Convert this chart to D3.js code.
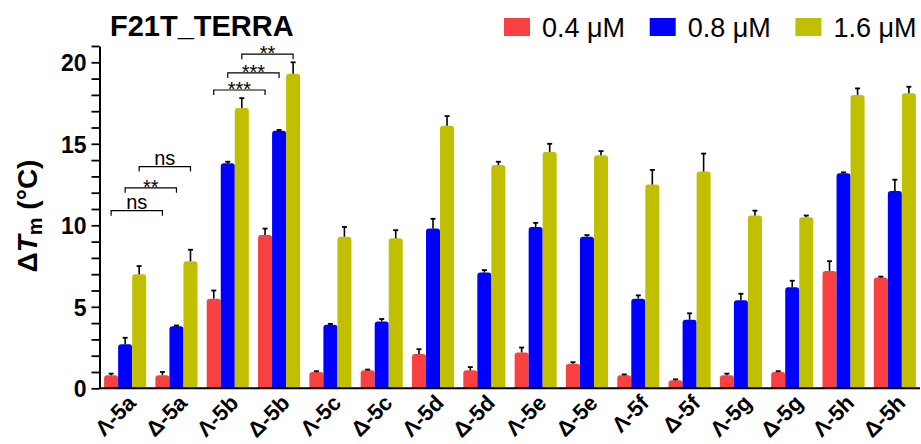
<!DOCTYPE html>
<html>
<head>
<meta charset="utf-8">
<script src="https://cdn.jsdelivr.net/npm/d3@7/dist/d3.min.js"></script>
<style>
  html, body { margin: 0; padding: 0; background: #fff; }
  svg { display: block; font-family: "Liberation Sans", Arial, sans-serif; }
</style>
</head>
<body>
<svg id="chart" width="921" height="444"></svg>
<script>
// Compounds on the x axis
const categories = ["Λ-5a", "Δ-5a", "Λ-5b", "Δ-5b", "Λ-5c", "Δ-5c", "Λ-5d", "Δ-5d",
                    "Λ-5e", "Δ-5e", "Λ-5f", "Δ-5f", "Λ-5g", "Δ-5g", "Λ-5h", "Δ-5h"];

// Concentration series
const seriesNames = ["0.4 μM", "0.8 μM", "1.6 μM"];
const seriesColors = ["#FA4141", "#0000FF", "#C0C000"];

// ΔTm means (°C) per concentration
const values04 = [0.8, 0.8, 5.5, 9.4, 1.0, 1.1, 2.1, 1.1, 2.2, 1.5, 0.8, 0.5, 0.8, 1.0, 7.2, 6.8];
const values08 = [2.7, 3.8, 13.8, 15.8, 3.9, 4.1, 9.8, 7.1, 9.9, 9.3, 5.5, 4.2, 5.4, 6.2, 13.2, 12.1];
const values16 = [7.0, 7.8, 17.2, 19.3, 9.3, 9.2, 16.1, 13.7, 14.5, 14.3, 12.5, 13.3, 10.6, 10.5, 18.0, 18.1];

// Standard deviations (drawn upward only)
const errors04 = [0.1, 0.2, 0.5, 0.4, 0.05, 0.05, 0.3, 0.2, 0.3, 0.1, 0.05, 0.05, 0.1, 0.05, 0.6, 0.05];
const errors08 = [0.4, 0.05, 0.1, 0.05, 0.05, 0.15, 0.6, 0.15, 0.25, 0.1, 0.2, 0.4, 0.4, 0.4, 0.05, 0.7];
const errors16 = [0.5, 0.7, 0.6, 0.7, 0.6, 0.5, 0.6, 0.2, 0.5, 0.25, 0.9, 1.1, 0.3, 0.1, 0.4, 0.4];

// Y axis ticks
const yTicks = d3.range(0, 22);
const yTickLabels = [0, 5, 10, 15, 20];

// Significance comparisons: category A vs category B within one series, bracket level (°C), label
const sigCategoryA = ["Λ-5a", "Λ-5a", "Λ-5a", "Λ-5b", "Λ-5b", "Λ-5b"];
const sigCategoryB = ["Δ-5a", "Δ-5a", "Δ-5a", "Δ-5b", "Δ-5b", "Δ-5b"];
const sigSeries    = [0, 1, 2, 0, 1, 2];
const sigLevels    = [10.9, 12.3, 13.6, 18.3, 19.35, 20.5];
const sigLabels    = ["ns", "**", "ns", "***", "***", "**"];

const seriesValues = [values04, values08, values16];
const seriesErrors = [errors04, errors08, errors16];

const svg = d3.select("#chart");

const x = d3.scaleBand().domain(categories).range([100, 920])
  .paddingInner(0.18).paddingOuter(0.08);
const xs = d3.scaleBand().domain(d3.range(seriesNames.length)).range([0, x.bandwidth()]);
const y = d3.scaleLinear().domain([0, 21]).range([388.3, 388.3 - 21 * 16.3]);

// bars with slightly rounded top corners
function barPath(x0, w, v) {
  const yt = y(v), yb = y(0);
  const r = Math.min(3, (yb - yt) / 2, w / 2);
  return `M${x0},${yb}V${yt + r}Q${x0},${yt} ${x0 + r},${yt}H${x0 + w - r}Q${x0 + w},${yt} ${x0 + w},${yt + r}V${yb}Z`;
}

const groups = svg.append("g").selectAll("g")
  .data(categories)
  .join("g")
  .attr("transform", d => `translate(${x(d)},0)`);

seriesNames.forEach((name, si) => {
  groups.append("path")
    .attr("d", (d, i) => barPath(xs(si), xs.bandwidth(), seriesValues[si][i]))
    .attr("fill", seriesColors[si]);

  // error bars
  groups.append("line")
    .attr("x1", xs(si) + xs.bandwidth() / 2)
    .attr("x2", xs(si) + xs.bandwidth() / 2)
    .attr("y1", (d, i) => y(seriesValues[si][i]))
    .attr("y2", (d, i) => y(seriesValues[si][i] + seriesErrors[si][i]))
    .attr("stroke", "#000").attr("stroke-width", 1.6);
  groups.append("line")
    .attr("x1", xs(si) + xs.bandwidth() / 2 - 2.5)
    .attr("x2", xs(si) + xs.bandwidth() / 2 + 2.5)
    .attr("y1", (d, i) => y(seriesValues[si][i] + seriesErrors[si][i]))
    .attr("y2", (d, i) => y(seriesValues[si][i] + seriesErrors[si][i]))
    .attr("stroke", "#000").attr("stroke-width", 1.8);
});

// Y axis
const yAxis = svg.append("g")
  .attr("transform", "translate(99.5,0)")
  .call(d3.axisLeft(y).tickValues(yTicks).tickSize(8).tickSizeOuter(0).tickPadding(5)
    .tickFormat(d => yTickLabels.includes(d) ? d : ""));
yAxis.select(".domain").attr("stroke", "#000").attr("stroke-width", 2);
yAxis.selectAll(".tick line").attr("stroke", "#000").attr("stroke-width", 1.8);
yAxis.selectAll(".tick text")
  .attr("font-family", "'Liberation Sans', Arial, sans-serif")
  .attr("font-size", 23).attr("font-weight", "bold").attr("fill", "#000")
  .attr("dy", "0.36em");

// X axis
const xAxis = svg.append("g")
  .attr("transform", `translate(0,${y(0)})`)
  .call(d3.axisBottom(x).tickSize(0).tickSizeOuter(0).tickPadding(0));
xAxis.select(".domain").attr("d", "M99,0H920").attr("stroke", "#000").attr("stroke-width", 2);
xAxis.selectAll(".tick text")
  .attr("font-family", "'Liberation Sans', Arial, sans-serif")
  .attr("font-size", 22).attr("font-weight", "bold").attr("fill", "#000")
  .attr("text-anchor", "end")
  .attr("y", 0).attr("dy", 0)
  .attr("transform", "translate(12,16) rotate(-45)");

// Y axis title
const yTitle = svg.append("text")
  .attr("transform", "translate(37,216) rotate(-90)")
  .attr("text-anchor", "middle")
  .attr("font-size", 28).attr("font-weight", "bold");
yTitle.append("tspan").text("Δ");
yTitle.append("tspan").attr("font-style", "italic").text("T");
yTitle.append("tspan").attr("font-size", 20).attr("dy", 5).text("m");
yTitle.append("tspan").attr("dy", -5).text(" (°C)");

// Chart title
svg.append("text")
  .attr("x", 110).attr("y", 36)
  .attr("font-size", 29).attr("font-weight", "bold")
  .text("F21T_TERRA");

// Legend
const legend = svg.append("g").selectAll("g")
  .data(seriesNames)
  .join("g")
  .attr("transform", (d, i) => `translate(${504 + i * 145.7},18)`);
legend.append("rect")
  .attr("width", 26).attr("height", 18)
  .attr("fill", (d, i) => seriesColors[i]);
legend.append("text")
  .attr("x", 38).attr("y", 18.5)
  .attr("font-size", 27)
  .text(d => d);

// Significance brackets
const sig = svg.append("g").selectAll("g")
  .data(sigLabels)
  .join("g");
sig.append("path")
  .attr("d", (d, i) => {
    const xa = x(sigCategoryA[i]) + xs(sigSeries[i]) + xs.bandwidth() / 2;
    const xb = x(sigCategoryB[i]) + xs(sigSeries[i]) + xs.bandwidth() / 2;
    const yl = y(sigLevels[i]);
    return `M${xa},${yl + 5}V${yl}H${xb}V${yl + 5}`;
  })
  .attr("fill", "none").attr("stroke", "#000").attr("stroke-width", 1.2);
sig.append("text")
  .attr("x", (d, i) => (x(sigCategoryA[i]) + x(sigCategoryB[i])) / 2 + xs(sigSeries[i]) + xs.bandwidth() / 2)
  .attr("y", (d, i) => y(sigLevels[i]) + (d === "ns" ? -2 : 6))
  .attr("text-anchor", "middle")
  .attr("font-size", 20)
  .text(d => d);
</script>
</body>
</html>
